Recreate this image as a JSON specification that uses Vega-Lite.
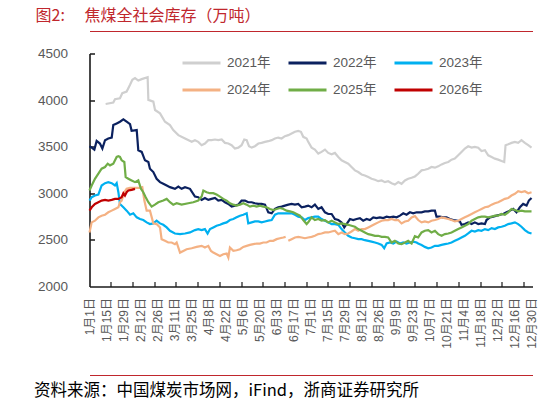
{
  "$schema": "https://vega.github.io/schema/vega-lite/v6.json",
  "autosize": {"type": "none"},
  "width": 443,
  "height": 233,
  "padding": {"left": 89.5, "top": 53.5, "right": 15.5, "bottom": 115.5},
  "background": "white",
  "config": {"view": {"stroke": null}, "font": "Liberation Sans"},
  "data": {
    "values": [
      {"year": "2021年", "day": 13.3, "value": 3958}, {"year": "2021年", "day": 19.6, "value": 3973}, {"year": "2021年", "day": 21, "value": 4009}, {"year": "2021年", "day": 25.1, "value": 4020}, {"year": "2021年", "day": 27, "value": 4074}, {"year": "2021年", "day": 30.6, "value": 4092}, {"year": "2021年", "day": 33.4, "value": 4164}, {"year": "2021年", "day": 35.3, "value": 4218}, {"year": "2021年", "day": 37.5, "value": 4236}, {"year": "2021年", "day": 40.2, "value": 4210}, {"year": "2021年", "day": 43, "value": 4225}, {"year": "2021年", "day": 47.9, "value": 4246}, {"year": "2021年", "day": 48.5, "value": 4002}, {"year": "2021年", "day": 52.6, "value": 3984}, {"year": "2021年", "day": 54, "value": 3894}, {"year": "2021年", "day": 58.1, "value": 3858}, {"year": "2021年", "day": 62.2, "value": 3768}, {"year": "2021年", "day": 66.3, "value": 3732}, {"year": "2021年", "day": 69, "value": 3678}, {"year": "2021年", "day": 73.2, "value": 3624}, {"year": "2021年", "day": 78.7, "value": 3588}, {"year": "2021年", "day": 84.2, "value": 3552}, {"year": "2021年", "day": 86.9, "value": 3570}, {"year": "2021年", "day": 89.6, "value": 3552}, {"year": "2021年", "day": 92.4, "value": 3516}, {"year": "2021年", "day": 95.1, "value": 3534}, {"year": "2021年", "day": 97.9, "value": 3570}, {"year": "2021年", "day": 100.6, "value": 3570}, {"year": "2021年", "day": 103.4, "value": 3577}, {"year": "2021年", "day": 106.1, "value": 3570}, {"year": "2021年", "day": 108.9, "value": 3577}, {"year": "2021年", "day": 111.6, "value": 3541}, {"year": "2021年", "day": 114.4, "value": 3534}, {"year": "2021年", "day": 117.1, "value": 3516}, {"year": "2021年", "day": 119.8, "value": 3480}, {"year": "2021年", "day": 122.6, "value": 3490}, {"year": "2021年", "day": 125.3, "value": 3516}, {"year": "2021年", "day": 127.5, "value": 3577}, {"year": "2021年", "day": 129.5, "value": 3570}, {"year": "2021年", "day": 131.4, "value": 3505}, {"year": "2021年", "day": 133.6, "value": 3490}, {"year": "2021年", "day": 136.3, "value": 3505}, {"year": "2021年", "day": 139.1, "value": 3534}, {"year": "2021年", "day": 141.8, "value": 3541}, {"year": "2021年", "day": 144.6, "value": 3552}, {"year": "2021年", "day": 147.3, "value": 3559}, {"year": "2021年", "day": 150.1, "value": 3570}, {"year": "2021年", "day": 152.8, "value": 3588}, {"year": "2021年", "day": 155.5, "value": 3598}, {"year": "2021年", "day": 158.3, "value": 3588}, {"year": "2021年", "day": 161, "value": 3613}, {"year": "2021年", "day": 163.8, "value": 3624}, {"year": "2021年", "day": 166.5, "value": 3642}, {"year": "2021年", "day": 169.3, "value": 3660}, {"year": "2021年", "day": 172, "value": 3670}, {"year": "2021年", "day": 174.2, "value": 3660}, {"year": "2021年", "day": 176.1, "value": 3606}, {"year": "2021年", "day": 178.9, "value": 3588}, {"year": "2021年", "day": 180.2, "value": 3552}, {"year": "2021年", "day": 183, "value": 3490}, {"year": "2021年", "day": 185.7, "value": 3469}, {"year": "2021年", "day": 188.5, "value": 3426}, {"year": "2021年", "day": 191.2, "value": 3444}, {"year": "2021年", "day": 194, "value": 3469}, {"year": "2021年", "day": 196.7, "value": 3433}, {"year": "2021年", "day": 199.5, "value": 3418}, {"year": "2021年", "day": 202.2, "value": 3433}, {"year": "2021年", "day": 205, "value": 3390}, {"year": "2021年", "day": 207.7, "value": 3354}, {"year": "2021年", "day": 210.4, "value": 3336}, {"year": "2021年", "day": 213.2, "value": 3318}, {"year": "2021年", "day": 215.9, "value": 3282}, {"year": "2021年", "day": 218.7, "value": 3246}, {"year": "2021年", "day": 221.4, "value": 3228}, {"year": "2021年", "day": 224.2, "value": 3202}, {"year": "2021年", "day": 226.9, "value": 3192}, {"year": "2021年", "day": 229.7, "value": 3174}, {"year": "2021年", "day": 232.4, "value": 3156}, {"year": "2021年", "day": 235.2, "value": 3145}, {"year": "2021年", "day": 237.9, "value": 3130}, {"year": "2021年", "day": 240.7, "value": 3138}, {"year": "2021年", "day": 243.4, "value": 3120}, {"year": "2021年", "day": 246.1, "value": 3130}, {"year": "2021年", "day": 248.9, "value": 3109}, {"year": "2021年", "day": 251.6, "value": 3094}, {"year": "2021年", "day": 254.4, "value": 3120}, {"year": "2021年", "day": 257.1, "value": 3102}, {"year": "2021年", "day": 259.9, "value": 3138}, {"year": "2021年", "day": 262.6, "value": 3156}, {"year": "2021年", "day": 265.4, "value": 3166}, {"year": "2021年", "day": 268.1, "value": 3181}, {"year": "2021年", "day": 270.8, "value": 3210}, {"year": "2021年", "day": 273.6, "value": 3246}, {"year": "2021年", "day": 276.3, "value": 3253}, {"year": "2021年", "day": 279.1, "value": 3264}, {"year": "2021年", "day": 281.8, "value": 3282}, {"year": "2021年", "day": 284.6, "value": 3275}, {"year": "2021年", "day": 287.3, "value": 3289}, {"year": "2021年", "day": 290.1, "value": 3310}, {"year": "2021年", "day": 292.8, "value": 3325}, {"year": "2021年", "day": 295.6, "value": 3336}, {"year": "2021年", "day": 298.3, "value": 3361}, {"year": "2021年", "day": 301, "value": 3372}, {"year": "2021年", "day": 303.8, "value": 3408}, {"year": "2021年", "day": 306.5, "value": 3444}, {"year": "2021年", "day": 309.3, "value": 3480}, {"year": "2021年", "day": 312, "value": 3505}, {"year": "2021年", "day": 314.8, "value": 3490}, {"year": "2021年", "day": 317.5, "value": 3498}, {"year": "2021年", "day": 320.3, "value": 3490}, {"year": "2021年", "day": 323, "value": 3454}, {"year": "2021年", "day": 325.8, "value": 3462}, {"year": "2021年", "day": 328.5, "value": 3408}, {"year": "2021年", "day": 331.3, "value": 3390}, {"year": "2021年", "day": 334, "value": 3372}, {"year": "2021年", "day": 336.7, "value": 3361}, {"year": "2021年", "day": 339.5, "value": 3347}, {"year": "2021年", "day": 341.7, "value": 3336}, {"year": "2021年", "day": 342.8, "value": 3516}, {"year": "2021年", "day": 345, "value": 3526}, {"year": "2021年", "day": 347.7, "value": 3541}, {"year": "2021年", "day": 350.5, "value": 3552}, {"year": "2021年", "day": 353.2, "value": 3541}, {"year": "2021年", "day": 355.9, "value": 3570}, {"year": "2021年", "day": 358.7, "value": 3541}, {"year": "2021年", "day": 361.5, "value": 3516}, {"year": "2021年", "day": 364.2, "value": 3490},

      {"year": "2022年", "day": 0, "value": 3505}, {"year": "2022年", "day": 1.8, "value": 3490}, {"year": "2022年", "day": 4, "value": 3469}, {"year": "2022年", "day": 5.9, "value": 3562}, {"year": "2022年", "day": 8.6, "value": 3534}, {"year": "2022年", "day": 10.6, "value": 3480}, {"year": "2022年", "day": 12.8, "value": 3570}, {"year": "2022年", "day": 15.5, "value": 3588}, {"year": "2022年", "day": 18.3, "value": 3598}, {"year": "2022年", "day": 19.6, "value": 3732}, {"year": "2022年", "day": 22.4, "value": 3750}, {"year": "2022年", "day": 25.1, "value": 3768}, {"year": "2022年", "day": 27.9, "value": 3793}, {"year": "2022年", "day": 30.6, "value": 3768}, {"year": "2022年", "day": 33.4, "value": 3742}, {"year": "2022年", "day": 34.7, "value": 3670}, {"year": "2022年", "day": 38.9, "value": 3678}, {"year": "2022年", "day": 40.2, "value": 3462}, {"year": "2022年", "day": 43, "value": 3444}, {"year": "2022年", "day": 45.7, "value": 3354}, {"year": "2022年", "day": 48.5, "value": 3336}, {"year": "2022年", "day": 49.8, "value": 3264}, {"year": "2022年", "day": 52.6, "value": 3228}, {"year": "2022年", "day": 55.3, "value": 3156}, {"year": "2022年", "day": 58.1, "value": 3120}, {"year": "2022年", "day": 60.8, "value": 3102}, {"year": "2022年", "day": 63.6, "value": 3084}, {"year": "2022年", "day": 66.3, "value": 3066}, {"year": "2022年", "day": 70.4, "value": 3048}, {"year": "2022年", "day": 73.2, "value": 3073}, {"year": "2022年", "day": 75.9, "value": 3048}, {"year": "2022年", "day": 78.7, "value": 3066}, {"year": "2022年", "day": 82.8, "value": 3048}, {"year": "2022年", "day": 86.9, "value": 2965}, {"year": "2022年", "day": 89.6, "value": 2958}, {"year": "2022年", "day": 92.4, "value": 2929}, {"year": "2022年", "day": 95.1, "value": 2950}, {"year": "2022年", "day": 97.9, "value": 2929}, {"year": "2022年", "day": 100.6, "value": 2940}, {"year": "2022年", "day": 103.4, "value": 2950}, {"year": "2022年", "day": 106.1, "value": 2922}, {"year": "2022年", "day": 108.9, "value": 2929}, {"year": "2022年", "day": 111.6, "value": 2904}, {"year": "2022年", "day": 114.4, "value": 2886}, {"year": "2022年", "day": 117.1, "value": 2857}, {"year": "2022年", "day": 119.8, "value": 2868}, {"year": "2022年", "day": 122.6, "value": 2878}, {"year": "2022年", "day": 125.3, "value": 2922}, {"year": "2022年", "day": 128.1, "value": 2922}, {"year": "2022年", "day": 130.8, "value": 2904}, {"year": "2022年", "day": 133.6, "value": 2904}, {"year": "2022年", "day": 136.3, "value": 2893}, {"year": "2022年", "day": 139.1, "value": 2886}, {"year": "2022年", "day": 141.8, "value": 2886}, {"year": "2022年", "day": 144.6, "value": 2878}, {"year": "2022年", "day": 147.3, "value": 2796}, {"year": "2022年", "day": 150.1, "value": 2785}, {"year": "2022年", "day": 152.8, "value": 2832}, {"year": "2022年", "day": 155.5, "value": 2850}, {"year": "2022年", "day": 158.3, "value": 2857}, {"year": "2022年", "day": 161, "value": 2868}, {"year": "2022年", "day": 163.8, "value": 2878}, {"year": "2022年", "day": 166.5, "value": 2886}, {"year": "2022年", "day": 169.3, "value": 2878}, {"year": "2022年", "day": 172, "value": 2886}, {"year": "2022年", "day": 174.8, "value": 2850}, {"year": "2022年", "day": 177.5, "value": 2857}, {"year": "2022年", "day": 180.2, "value": 2868}, {"year": "2022年", "day": 183, "value": 2850}, {"year": "2022年", "day": 185.7, "value": 2878}, {"year": "2022年", "day": 188.5, "value": 2832}, {"year": "2022年", "day": 191.2, "value": 2850}, {"year": "2022年", "day": 194, "value": 2796}, {"year": "2022年", "day": 196.7, "value": 2778}, {"year": "2022年", "day": 199.5, "value": 2778}, {"year": "2022年", "day": 202.2, "value": 2724}, {"year": "2022年", "day": 205, "value": 2713}, {"year": "2022年", "day": 207.7, "value": 2688}, {"year": "2022年", "day": 209.9, "value": 2634}, {"year": "2022年", "day": 211.8, "value": 2670}, {"year": "2022年", "day": 214.6, "value": 2724}, {"year": "2022年", "day": 217.3, "value": 2713}, {"year": "2022年", "day": 220.1, "value": 2724}, {"year": "2022年", "day": 222.8, "value": 2734}, {"year": "2022年", "day": 225.5, "value": 2706}, {"year": "2022年", "day": 228.3, "value": 2724}, {"year": "2022年", "day": 231, "value": 2713}, {"year": "2022年", "day": 233.8, "value": 2742}, {"year": "2022年", "day": 236.5, "value": 2734}, {"year": "2022年", "day": 239.3, "value": 2742}, {"year": "2022年", "day": 242, "value": 2734}, {"year": "2022年", "day": 244.8, "value": 2749}, {"year": "2022年", "day": 247.5, "value": 2742}, {"year": "2022年", "day": 250.3, "value": 2749}, {"year": "2022年", "day": 253, "value": 2742}, {"year": "2022年", "day": 255.8, "value": 2760}, {"year": "2022年", "day": 258.5, "value": 2785}, {"year": "2022年", "day": 261.2, "value": 2770}, {"year": "2022年", "day": 264, "value": 2796}, {"year": "2022年", "day": 266.7, "value": 2785}, {"year": "2022年", "day": 269.5, "value": 2796}, {"year": "2022年", "day": 273.6, "value": 2796}, {"year": "2022年", "day": 276.3, "value": 2806}, {"year": "2022年", "day": 279.1, "value": 2806}, {"year": "2022年", "day": 281.8, "value": 2814}, {"year": "2022年", "day": 284.6, "value": 2814}, {"year": "2022年", "day": 285.9, "value": 2749}, {"year": "2022年", "day": 288.7, "value": 2749}, {"year": "2022年", "day": 291.4, "value": 2742}, {"year": "2022年", "day": 294.2, "value": 2742}, {"year": "2022年", "day": 296.9, "value": 2724}, {"year": "2022年", "day": 299.7, "value": 2713}, {"year": "2022年", "day": 302.4, "value": 2706}, {"year": "2022年", "day": 305.2, "value": 2698}, {"year": "2022年", "day": 306.5, "value": 2662}, {"year": "2022年", "day": 309.3, "value": 2670}, {"year": "2022年", "day": 312, "value": 2688}, {"year": "2022年", "day": 314.8, "value": 2670}, {"year": "2022年", "day": 317.5, "value": 2688}, {"year": "2022年", "day": 320.3, "value": 2670}, {"year": "2022年", "day": 323, "value": 2677}, {"year": "2022年", "day": 325.8, "value": 2670}, {"year": "2022年", "day": 327.1, "value": 2713}, {"year": "2022年", "day": 329.9, "value": 2742}, {"year": "2022年", "day": 332.6, "value": 2749}, {"year": "2022年", "day": 335.4, "value": 2760}, {"year": "2022年", "day": 338.1, "value": 2770}, {"year": "2022年", "day": 340.9, "value": 2778}, {"year": "2022年", "day": 343.6, "value": 2796}, {"year": "2022年", "day": 346.4, "value": 2814}, {"year": "2022年", "day": 349.1, "value": 2832}, {"year": "2022年", "day": 351.8, "value": 2796}, {"year": "2022年", "day": 354.6, "value": 2850}, {"year": "2022年", "day": 357.3, "value": 2886}, {"year": "2022年", "day": 360.1, "value": 2868}, {"year": "2022年", "day": 362, "value": 2922}, {"year": "2022年", "day": 364.2, "value": 2950},

      {"year": "2023年", "day": 0, "value": 2922}, {"year": "2023年", "day": 1.8, "value": 2958}, {"year": "2023年", "day": 4.5, "value": 2976}, {"year": "2023年", "day": 7.3, "value": 2986}, {"year": "2023年", "day": 10, "value": 3084}, {"year": "2023年", "day": 12.8, "value": 3109}, {"year": "2023年", "day": 15.5, "value": 3120}, {"year": "2023年", "day": 18.3, "value": 3109}, {"year": "2023年", "day": 21, "value": 3084}, {"year": "2023年", "day": 22.4, "value": 3109}, {"year": "2023年", "day": 23.8, "value": 3012}, {"year": "2023年", "day": 25.1, "value": 2886}, {"year": "2023年", "day": 27.9, "value": 2850}, {"year": "2023年", "day": 30.6, "value": 2814}, {"year": "2023年", "day": 33.4, "value": 2770}, {"year": "2023年", "day": 36.1, "value": 2785}, {"year": "2023年", "day": 38.9, "value": 2742}, {"year": "2023年", "day": 41.6, "value": 2724}, {"year": "2023年", "day": 44.3, "value": 2713}, {"year": "2023年", "day": 47.1, "value": 2688}, {"year": "2023年", "day": 49.8, "value": 2670}, {"year": "2023年", "day": 52.6, "value": 2677}, {"year": "2023年", "day": 55.3, "value": 2706}, {"year": "2023年", "day": 58.1, "value": 2677}, {"year": "2023年", "day": 60.8, "value": 2662}, {"year": "2023年", "day": 63.6, "value": 2634}, {"year": "2023年", "day": 66.3, "value": 2598}, {"year": "2023年", "day": 70.4, "value": 2569}, {"year": "2023年", "day": 74.6, "value": 2562}, {"year": "2023年", "day": 78.7, "value": 2569}, {"year": "2023年", "day": 82.8, "value": 2580}, {"year": "2023年", "day": 86.9, "value": 2605}, {"year": "2023年", "day": 89.6, "value": 2616}, {"year": "2023年", "day": 92.4, "value": 2605}, {"year": "2023年", "day": 95.1, "value": 2616}, {"year": "2023年", "day": 97.3, "value": 2569}, {"year": "2023年", "day": 99.3, "value": 2616}, {"year": "2023年", "day": 102, "value": 2634}, {"year": "2023年", "day": 104.7, "value": 2652}, {"year": "2023年", "day": 107.5, "value": 2662}, {"year": "2023年", "day": 110.2, "value": 2677}, {"year": "2023年", "day": 113, "value": 2688}, {"year": "2023年", "day": 115.7, "value": 2713}, {"year": "2023年", "day": 118.5, "value": 2724}, {"year": "2023年", "day": 121.2, "value": 2742}, {"year": "2023年", "day": 124, "value": 2760}, {"year": "2023年", "day": 126.7, "value": 2770}, {"year": "2023年", "day": 129.5, "value": 2785}, {"year": "2023年", "day": 130.8, "value": 2677}, {"year": "2023年", "day": 133.6, "value": 2688}, {"year": "2023年", "day": 136.3, "value": 2698}, {"year": "2023年", "day": 139.1, "value": 2698}, {"year": "2023年", "day": 141.8, "value": 2688}, {"year": "2023年", "day": 144.6, "value": 2698}, {"year": "2023年", "day": 147.3, "value": 2706}, {"year": "2023年", "day": 150.1, "value": 2713}, {"year": "2023年", "day": 152.8, "value": 2770}, {"year": "2023年", "day": 155.5, "value": 2785}, {"year": "2023年", "day": 158.3, "value": 2785}, {"year": "2023年", "day": 161, "value": 2785}, {"year": "2023年", "day": 163.8, "value": 2785}, {"year": "2023年", "day": 166.5, "value": 2785}, {"year": "2023年", "day": 169.3, "value": 2770}, {"year": "2023年", "day": 172, "value": 2749}, {"year": "2023年", "day": 174.8, "value": 2742}, {"year": "2023年", "day": 177.5, "value": 2713}, {"year": "2023年", "day": 180.2, "value": 2734}, {"year": "2023年", "day": 183, "value": 2742}, {"year": "2023年", "day": 185.7, "value": 2749}, {"year": "2023年", "day": 188.5, "value": 2749}, {"year": "2023年", "day": 191.2, "value": 2724}, {"year": "2023年", "day": 194, "value": 2706}, {"year": "2023年", "day": 196.7, "value": 2688}, {"year": "2023年", "day": 199.5, "value": 2670}, {"year": "2023年", "day": 202.2, "value": 2670}, {"year": "2023年", "day": 205, "value": 2662}, {"year": "2023年", "day": 207.7, "value": 2616}, {"year": "2023年", "day": 210.4, "value": 2580}, {"year": "2023年", "day": 213.2, "value": 2544}, {"year": "2023年", "day": 215.9, "value": 2526}, {"year": "2023年", "day": 218.7, "value": 2518}, {"year": "2023年", "day": 221.4, "value": 2508}, {"year": "2023年", "day": 224.2, "value": 2508}, {"year": "2023年", "day": 226.9, "value": 2497}, {"year": "2023年", "day": 229.7, "value": 2490}, {"year": "2023年", "day": 232.4, "value": 2482}, {"year": "2023年", "day": 235.2, "value": 2472}, {"year": "2023年", "day": 237.9, "value": 2461}, {"year": "2023年", "day": 240.7, "value": 2446}, {"year": "2023年", "day": 242.8, "value": 2410}, {"year": "2023年", "day": 244.8, "value": 2461}, {"year": "2023年", "day": 247.5, "value": 2472}, {"year": "2023年", "day": 250.3, "value": 2461}, {"year": "2023年", "day": 253, "value": 2482}, {"year": "2023年", "day": 255.8, "value": 2461}, {"year": "2023年", "day": 258.5, "value": 2472}, {"year": "2023年", "day": 261.2, "value": 2461}, {"year": "2023年", "day": 264, "value": 2472}, {"year": "2023年", "day": 266.7, "value": 2482}, {"year": "2023年", "day": 269.5, "value": 2472}, {"year": "2023年", "day": 270.8, "value": 2461}, {"year": "2023年", "day": 273.6, "value": 2446}, {"year": "2023年", "day": 276.3, "value": 2425}, {"year": "2023年", "day": 279.1, "value": 2410}, {"year": "2023年", "day": 281.8, "value": 2418}, {"year": "2023年", "day": 284.6, "value": 2436}, {"year": "2023年", "day": 287.3, "value": 2436}, {"year": "2023年", "day": 290.1, "value": 2446}, {"year": "2023年", "day": 292.8, "value": 2454}, {"year": "2023年", "day": 295.6, "value": 2461}, {"year": "2023年", "day": 298.3, "value": 2472}, {"year": "2023年", "day": 301, "value": 2490}, {"year": "2023年", "day": 303.8, "value": 2508}, {"year": "2023年", "day": 306.5, "value": 2526}, {"year": "2023年", "day": 309.3, "value": 2544}, {"year": "2023年", "day": 312, "value": 2569}, {"year": "2023年", "day": 314.8, "value": 2598}, {"year": "2023年", "day": 317.5, "value": 2590}, {"year": "2023年", "day": 320.3, "value": 2605}, {"year": "2023年", "day": 323, "value": 2598}, {"year": "2023年", "day": 325.8, "value": 2616}, {"year": "2023年", "day": 328.5, "value": 2605}, {"year": "2023年", "day": 331.3, "value": 2626}, {"year": "2023年", "day": 334, "value": 2616}, {"year": "2023年", "day": 336.7, "value": 2634}, {"year": "2023年", "day": 339.5, "value": 2641}, {"year": "2023年", "day": 342.2, "value": 2652}, {"year": "2023年", "day": 345, "value": 2670}, {"year": "2023年", "day": 347.7, "value": 2677}, {"year": "2023年", "day": 350.5, "value": 2688}, {"year": "2023年", "day": 353.2, "value": 2670}, {"year": "2023年", "day": 355.9, "value": 2641}, {"year": "2023年", "day": 358.7, "value": 2605}, {"year": "2023年", "day": 361.5, "value": 2580}, {"year": "2023年", "day": 364.2, "value": 2569},

      {"year": "2024年", "day": 0, "value": 2580}, {"year": "2024年", "day": 1.8, "value": 2688}, {"year": "2024年", "day": 4.5, "value": 2706}, {"year": "2024年", "day": 7.3, "value": 2742}, {"year": "2024年", "day": 10, "value": 2760}, {"year": "2024年", "day": 12.8, "value": 2770}, {"year": "2024年", "day": 15.5, "value": 2796}, {"year": "2024年", "day": 18.3, "value": 2814}, {"year": "2024年", "day": 21, "value": 2832}, {"year": "2024年", "day": 23.8, "value": 2850}, {"year": "2024年", "day": 25.1, "value": 2904}, {"year": "2024年", "day": 26.5, "value": 2922}, {"year": "2024年", "day": 28.7, "value": 3012}, {"year": "2024年", "day": 30.6, "value": 3048}, {"year": "2024年", "day": 33.4, "value": 3058}, {"year": "2024年", "day": 37.5, "value": 3058}, {"year": "2024年", "day": 41.6, "value": 3058}, {"year": "2024年", "day": 43.5, "value": 3066}, {"year": "2024年", "day": 45.2, "value": 2922}, {"year": "2024年", "day": 47.1, "value": 2814}, {"year": "2024年", "day": 49.8, "value": 2814}, {"year": "2024年", "day": 52.6, "value": 2677}, {"year": "2024年", "day": 55.3, "value": 2670}, {"year": "2024年", "day": 58.1, "value": 2634}, {"year": "2024年", "day": 59.4, "value": 2508}, {"year": "2024年", "day": 62.2, "value": 2490}, {"year": "2024年", "day": 64.9, "value": 2472}, {"year": "2024年", "day": 67.7, "value": 2472}, {"year": "2024年", "day": 70.4, "value": 2454}, {"year": "2024年", "day": 71.8, "value": 2472}, {"year": "2024年", "day": 74.6, "value": 2364}, {"year": "2024年", "day": 77.3, "value": 2382}, {"year": "2024年", "day": 80, "value": 2400}, {"year": "2024年", "day": 84.2, "value": 2410}, {"year": "2024年", "day": 88.3, "value": 2425}, {"year": "2024年", "day": 92.4, "value": 2436}, {"year": "2024年", "day": 95.1, "value": 2418}, {"year": "2024年", "day": 97.9, "value": 2436}, {"year": "2024年", "day": 100.1, "value": 2382}, {"year": "2024年", "day": 102, "value": 2364}, {"year": "2024年", "day": 104.7, "value": 2346}, {"year": "2024年", "day": 107.5, "value": 2328}, {"year": "2024年", "day": 110.2, "value": 2346}, {"year": "2024年", "day": 113, "value": 2353}, {"year": "2024年", "day": 114.4, "value": 2310}, {"year": "2024年", "day": 115.7, "value": 2418}, {"year": "2024年", "day": 118.5, "value": 2382}, {"year": "2024年", "day": 121.2, "value": 2389}, {"year": "2024年", "day": 124, "value": 2400}, {"year": "2024年", "day": 126.7, "value": 2425}, {"year": "2024年", "day": 129.5, "value": 2436}, {"year": "2024年", "day": 132.2, "value": 2446}, {"year": "2024年", "day": 135, "value": 2454}, {"year": "2024年", "day": 137.7, "value": 2461}, {"year": "2024年", "day": 140.4, "value": 2461}, {"year": "2024年", "day": 143.2, "value": 2472}, {"year": "2024年", "day": 145.9, "value": 2472}, {"year": "2024年", "day": 148.7, "value": 2490}, {"year": "2024年", "day": 151.4, "value": 2490}, {"year": "2024年", "day": 154.2, "value": 2508}, {"year": "2024年", "day": 156.9, "value": 2518}, {"year": "2024年", "day": 159.7, "value": 2526}, {"year": "2024年", "day": 161.6, "value": 2533}, {"year": "2024年", "day": 162.7, "value": null}, {"year": "2024年", "day": 163.8, "value": 2490}, {"year": "2024年", "day": 166.5, "value": 2508}, {"year": "2024年", "day": 169.3, "value": 2526}, {"year": "2024年", "day": 172, "value": 2533}, {"year": "2024年", "day": 174.8, "value": 2526}, {"year": "2024年", "day": 177.5, "value": 2518}, {"year": "2024年", "day": 180.2, "value": 2526}, {"year": "2024年", "day": 183, "value": 2533}, {"year": "2024年", "day": 185.7, "value": 2544}, {"year": "2024年", "day": 188.5, "value": 2562}, {"year": "2024年", "day": 191.2, "value": 2569}, {"year": "2024年", "day": 194, "value": 2580}, {"year": "2024年", "day": 196.7, "value": 2580}, {"year": "2024年", "day": 199.5, "value": 2590}, {"year": "2024年", "day": 202.2, "value": 2598}, {"year": "2024年", "day": 205, "value": 2562}, {"year": "2024年", "day": 207.7, "value": 2580}, {"year": "2024年", "day": 210.4, "value": 2562}, {"year": "2024年", "day": 213.2, "value": 2569}, {"year": "2024年", "day": 215.9, "value": 2590}, {"year": "2024年", "day": 218.7, "value": 2616}, {"year": "2024年", "day": 221.4, "value": 2598}, {"year": "2024年", "day": 224.2, "value": 2616}, {"year": "2024年", "day": 226.9, "value": 2616}, {"year": "2024年", "day": 229.7, "value": 2634}, {"year": "2024年", "day": 232.4, "value": 2652}, {"year": "2024年", "day": 235.2, "value": 2670}, {"year": "2024年", "day": 237.9, "value": 2688}, {"year": "2024年", "day": 240.7, "value": 2706}, {"year": "2024年", "day": 243.4, "value": 2713}, {"year": "2024年", "day": 246.1, "value": 2713}, {"year": "2024年", "day": 248.9, "value": 2724}, {"year": "2024年", "day": 251.6, "value": 2713}, {"year": "2024年", "day": 254.4, "value": 2713}, {"year": "2024年", "day": 257.1, "value": 2677}, {"year": "2024年", "day": 259.9, "value": 2698}, {"year": "2024年", "day": 262.6, "value": 2706}, {"year": "2024年", "day": 265.4, "value": 2742}, {"year": "2024年", "day": 268.1, "value": 2755}, {"year": "2024年", "day": 270.8, "value": 2713}, {"year": "2024年", "day": 273.6, "value": 2688}, {"year": "2024年", "day": 276.3, "value": 2698}, {"year": "2024年", "day": 279.1, "value": 2688}, {"year": "2024年", "day": 281.8, "value": 2706}, {"year": "2024年", "day": 284.6, "value": 2713}, {"year": "2024年", "day": 287.3, "value": 2724}, {"year": "2024年", "day": 290.1, "value": 2742}, {"year": "2024年", "day": 292.8, "value": 2734}, {"year": "2024年", "day": 295.6, "value": 2724}, {"year": "2024年", "day": 298.3, "value": 2713}, {"year": "2024年", "day": 301, "value": 2698}, {"year": "2024年", "day": 303.8, "value": 2706}, {"year": "2024年", "day": 306.5, "value": 2724}, {"year": "2024年", "day": 309.3, "value": 2742}, {"year": "2024年", "day": 312, "value": 2760}, {"year": "2024年", "day": 314.8, "value": 2778}, {"year": "2024年", "day": 317.5, "value": 2796}, {"year": "2024年", "day": 320.3, "value": 2814}, {"year": "2024年", "day": 323, "value": 2832}, {"year": "2024年", "day": 325.8, "value": 2850}, {"year": "2024年", "day": 328.5, "value": 2857}, {"year": "2024年", "day": 331.3, "value": 2878}, {"year": "2024年", "day": 334, "value": 2893}, {"year": "2024年", "day": 336.7, "value": 2904}, {"year": "2024年", "day": 339.5, "value": 2922}, {"year": "2024年", "day": 342.2, "value": 2940}, {"year": "2024年", "day": 345, "value": 2950}, {"year": "2024年", "day": 347.7, "value": 2976}, {"year": "2024年", "day": 350.5, "value": 2994}, {"year": "2024年", "day": 353.2, "value": 3022}, {"year": "2024年", "day": 355.9, "value": 3012}, {"year": "2024年", "day": 358.7, "value": 3022}, {"year": "2024年", "day": 361.5, "value": 3001}, {"year": "2024年", "day": 364.2, "value": 3012},

      {"year": "2025年", "day": 0, "value": 3030}, {"year": "2025年", "day": 1.8, "value": 3084}, {"year": "2025年", "day": 4.5, "value": 3156}, {"year": "2025年", "day": 7.3, "value": 3210}, {"year": "2025年", "day": 10, "value": 3264}, {"year": "2025年", "day": 12.8, "value": 3282}, {"year": "2025年", "day": 15, "value": 3318}, {"year": "2025年", "day": 16.9, "value": 3300}, {"year": "2025年", "day": 19.6, "value": 3318}, {"year": "2025年", "day": 22.4, "value": 3390}, {"year": "2025年", "day": 23.8, "value": 3397}, {"year": "2025年", "day": 25.1, "value": 3390}, {"year": "2025年", "day": 26.5, "value": 3354}, {"year": "2025年", "day": 28.7, "value": 3336}, {"year": "2025年", "day": 29.8, "value": 3174}, {"year": "2025年", "day": 32, "value": 3156}, {"year": "2025年", "day": 34.7, "value": 3138}, {"year": "2025年", "day": 37.5, "value": 3120}, {"year": "2025年", "day": 40.2, "value": 3138}, {"year": "2025年", "day": 42.4, "value": 3048}, {"year": "2025年", "day": 44.3, "value": 3012}, {"year": "2025年", "day": 46.3, "value": 2958}, {"year": "2025年", "day": 48.5, "value": 2904}, {"year": "2025年", "day": 51.2, "value": 2857}, {"year": "2025年", "day": 53.9, "value": 2878}, {"year": "2025年", "day": 56.7, "value": 2904}, {"year": "2025年", "day": 60.8, "value": 2922}, {"year": "2025年", "day": 63.6, "value": 2940}, {"year": "2025年", "day": 66.3, "value": 2904}, {"year": "2025年", "day": 69, "value": 2878}, {"year": "2025年", "day": 71.8, "value": 2893}, {"year": "2025年", "day": 75.9, "value": 2878}, {"year": "2025年", "day": 81.4, "value": 2893}, {"year": "2025年", "day": 85.5, "value": 2904}, {"year": "2025年", "day": 89.6, "value": 2922}, {"year": "2025年", "day": 92.4, "value": 2965}, {"year": "2025年", "day": 93.8, "value": 3030}, {"year": "2025年", "day": 96.5, "value": 3012}, {"year": "2025年", "day": 99.3, "value": 3001}, {"year": "2025年", "day": 102, "value": 3001}, {"year": "2025年", "day": 104.7, "value": 2986}, {"year": "2025年", "day": 107.5, "value": 2965}, {"year": "2025年", "day": 110.2, "value": 2940}, {"year": "2025年", "day": 113, "value": 2922}, {"year": "2025年", "day": 115.7, "value": 2893}, {"year": "2025年", "day": 118.5, "value": 2878}, {"year": "2025年", "day": 121.2, "value": 2868}, {"year": "2025年", "day": 124, "value": 2878}, {"year": "2025年", "day": 126.7, "value": 2893}, {"year": "2025年", "day": 129.5, "value": 2878}, {"year": "2025年", "day": 132.2, "value": 2857}, {"year": "2025年", "day": 135, "value": 2868}, {"year": "2025年", "day": 137.7, "value": 2857}, {"year": "2025年", "day": 140.4, "value": 2868}, {"year": "2025年", "day": 143.2, "value": 2857}, {"year": "2025年", "day": 145.9, "value": 2850}, {"year": "2025年", "day": 148.7, "value": 2832}, {"year": "2025年", "day": 151.4, "value": 2821}, {"year": "2025年", "day": 154.2, "value": 2832}, {"year": "2025年", "day": 156.9, "value": 2842}, {"year": "2025年", "day": 159.7, "value": 2832}, {"year": "2025年", "day": 162.4, "value": 2814}, {"year": "2025年", "day": 165.2, "value": 2806}, {"year": "2025年", "day": 167.9, "value": 2796}, {"year": "2025年", "day": 170.6, "value": 2778}, {"year": "2025年", "day": 173.4, "value": 2760}, {"year": "2025年", "day": 176.1, "value": 2713}, {"year": "2025年", "day": 178.9, "value": 2670}, {"year": "2025年", "day": 180.2, "value": 2688}, {"year": "2025年", "day": 183, "value": 2742}, {"year": "2025年", "day": 185.7, "value": 2713}, {"year": "2025年", "day": 188.5, "value": 2724}, {"year": "2025年", "day": 191.2, "value": 2706}, {"year": "2025年", "day": 194, "value": 2713}, {"year": "2025年", "day": 196.7, "value": 2688}, {"year": "2025年", "day": 199.5, "value": 2706}, {"year": "2025年", "day": 202.2, "value": 2688}, {"year": "2025年", "day": 205, "value": 2670}, {"year": "2025年", "day": 207.7, "value": 2677}, {"year": "2025年", "day": 210.4, "value": 2670}, {"year": "2025年", "day": 213.2, "value": 2662}, {"year": "2025年", "day": 215.9, "value": 2652}, {"year": "2025年", "day": 218.7, "value": 2641}, {"year": "2025年", "day": 221.4, "value": 2616}, {"year": "2025年", "day": 224.2, "value": 2598}, {"year": "2025年", "day": 226.9, "value": 2580}, {"year": "2025年", "day": 229.7, "value": 2562}, {"year": "2025年", "day": 232.4, "value": 2554}, {"year": "2025年", "day": 235.2, "value": 2544}, {"year": "2025年", "day": 237.9, "value": 2544}, {"year": "2025年", "day": 240.7, "value": 2533}, {"year": "2025年", "day": 243.4, "value": 2533}, {"year": "2025年", "day": 246.1, "value": 2526}, {"year": "2025年", "day": 248.9, "value": 2472}, {"year": "2025年", "day": 251.6, "value": 2490}, {"year": "2025年", "day": 254.4, "value": 2461}, {"year": "2025年", "day": 257.1, "value": 2454}, {"year": "2025年", "day": 259.9, "value": 2472}, {"year": "2025年", "day": 262.6, "value": 2490}, {"year": "2025年", "day": 265.4, "value": 2461}, {"year": "2025年", "day": 268.1, "value": 2540}, {"year": "2025年", "day": 270.8, "value": 2526}, {"year": "2025年", "day": 273.6, "value": 2580}, {"year": "2025年", "day": 276.3, "value": 2598}, {"year": "2025年", "day": 279.1, "value": 2605}, {"year": "2025年", "day": 281.8, "value": 2580}, {"year": "2025年", "day": 284.6, "value": 2598}, {"year": "2025年", "day": 287.3, "value": 2562}, {"year": "2025年", "day": 290.1, "value": 2544}, {"year": "2025年", "day": 292.8, "value": 2562}, {"year": "2025年", "day": 295.6, "value": 2569}, {"year": "2025年", "day": 298.3, "value": 2580}, {"year": "2025年", "day": 301, "value": 2598}, {"year": "2025年", "day": 303.8, "value": 2616}, {"year": "2025年", "day": 306.5, "value": 2634}, {"year": "2025年", "day": 309.3, "value": 2652}, {"year": "2025年", "day": 312, "value": 2670}, {"year": "2025年", "day": 314.8, "value": 2706}, {"year": "2025年", "day": 317.5, "value": 2724}, {"year": "2025年", "day": 320.3, "value": 2742}, {"year": "2025年", "day": 323, "value": 2749}, {"year": "2025年", "day": 325.8, "value": 2749}, {"year": "2025年", "day": 328.5, "value": 2742}, {"year": "2025年", "day": 331.3, "value": 2749}, {"year": "2025年", "day": 334, "value": 2760}, {"year": "2025年", "day": 336.7, "value": 2760}, {"year": "2025年", "day": 339.5, "value": 2778}, {"year": "2025年", "day": 342.2, "value": 2770}, {"year": "2025年", "day": 345, "value": 2796}, {"year": "2025年", "day": 347.7, "value": 2832}, {"year": "2025年", "day": 350.5, "value": 2821}, {"year": "2025年", "day": 353.2, "value": 2806}, {"year": "2025年", "day": 355.9, "value": 2814}, {"year": "2025年", "day": 358.7, "value": 2806}, {"year": "2025年", "day": 361.5, "value": 2806}, {"year": "2025年", "day": 364.2, "value": 2806},

      {"year": "2026年", "day": 0, "value": 2814}, {"year": "2026年", "day": 1.8, "value": 2850}, {"year": "2026年", "day": 4.5, "value": 2886}, {"year": "2026年", "day": 7.3, "value": 2904}, {"year": "2026年", "day": 10, "value": 2922}, {"year": "2026年", "day": 12.8, "value": 2929}, {"year": "2026年", "day": 15.5, "value": 2922}, {"year": "2026年", "day": 18.3, "value": 2929}, {"year": "2026年", "day": 21, "value": 2940}, {"year": "2026年", "day": 23.8, "value": 2940}, {"year": "2026年", "day": 26.5, "value": 2958}, {"year": "2026年", "day": 27.9, "value": 3001}, {"year": "2026年", "day": 29.2, "value": 2976}, {"year": "2026年", "day": 30.6, "value": 3012}, {"year": "2026年", "day": 32, "value": 3030}, {"year": "2026年", "day": 34.7, "value": 3037}, {"year": "2026年", "day": 37.5, "value": 3048}
    ]
  },
  "layer": [
    {
      "mark": {"type": "line", "strokeWidth": 2.2},
      "encoding": {
        "x": {
          "field": "day",
          "type": "quantitative",
          "scale": {"domain": [0, 365], "nice": false, "zero": false},
          "axis": {
            "orient": "bottom",
            "title": null,
            "values": [0, 14, 28, 42, 56, 70, 84, 98, 112, 126, 140, 154, 168, 182, 196, 210, 224, 238, 252, 266, 280, 294, 308, 322, 336, 350, 364],
            "labelExpr": "timeFormat(datetime(2024, 0, 1 + datum.value), '%-m月%-d日')",
            "labelAngle": 270,
            "labelOverlap": false,
            "labelFlush": false,
            "labelPadding": 11,
            "labelFont": "Liberation Sans, Noto Sans CJK SC",
            "labelFontSize": 12,
            "labelColor": "#595959",
            "ticks": false,
            "grid": false,
            "domainColor": "#1a1a1a",
            "domainWidth": 1.6
          }
        },
        "y": {
          "field": "value",
          "type": "quantitative",
          "scale": {"domain": [2000, 4500], "nice": false, "zero": false},
          "axis": {
            "orient": "left",
            "title": null,
            "values": [2000, 2500, 3000, 3500, 4000, 4500],
            "format": "d",
            "grid": false,
            "ticks": false,
            "domainColor": "#1a1a1a",
            "domainWidth": 1.6,
            "labelPadding": 22,
            "labelFont": "Liberation Sans",
            "labelFontSize": 13.5,
            "labelColor": "#595959"
          }
        },
        "color": {
          "field": "year",
          "type": "nominal",
          "scale": {
            "domain": ["2021年", "2022年", "2023年", "2024年", "2025年", "2026年"],
            "range": ["#CFCFCF", "#0B215F", "#00B0F0", "#F4B183", "#70AD47", "#C00000"]
          },
          "legend": {
            "title": null,
            "orient": "none",
            "legendX": 91.5,
            "legendY": -11,
            "columns": 3,
            "direction": "horizontal",
            "symbolType": "stroke",
            "symbolSize": 1444,
            "symbolStrokeWidth": 3,
            "labelFont": "Liberation Sans, Noto Sans CJK SC",
            "labelFontSize": 13.5,
            "labelColor": "#595959",
            "labelOffset": 5,
            "columnPadding": 11,
            "rowPadding": 0
          }
        }
      }
    },
    {
      "transform": [{"filter": "false"}],
      "mark": {"type": "line"},
      "encoding": {
        "x": {
          "field": "day",
          "type": "quantitative",
          "scale": {"domain": [0, 365], "nice": false, "zero": false},
          "axis": {
            "orient": "bottom",
            "offset": -5,
            "title": null,
            "values": [17.5, 35.4, 53.3, 71.2, 89.1, 107, 124.9, 142.8, 160.7, 178.6, 196.5, 214.4, 232.3, 250.2, 268.1, 286, 303.9, 321.8, 339.7, 357.6],
            "labels": false,
            "domain": false,
            "grid": false,
            "ticks": true,
            "tickSize": 5,
            "tickWidth": 1.2,
            "tickColor": "#1a1a1a"
          }
        },
        "y": {
          "field": "value",
          "type": "quantitative",
          "scale": {"domain": [2000, 4500], "nice": false, "zero": false},
          "axis": {
            "orient": "left",
            "offset": -5,
            "title": null,
            "values": [2500, 3000, 3500, 4000, 4500],
            "labels": false,
            "domain": false,
            "grid": false,
            "ticks": true,
            "tickSize": 5,
            "tickWidth": 1.5,
            "tickColor": "#1a1a1a"
          }
        }
      }
    },
    {
      "transform": [{"filter": "false"}],
      "mark": {"type": "line"},
      "encoding": {
        "x": {
          "field": "day",
          "type": "quantitative",
          "scale": {"domain": [0, 365], "nice": false, "zero": false},
          "axis": {
            "orient": "top",
            "offset": 22.5,
            "domain": true,
            "domainColor": "#C0272D",
            "domainWidth": 1.2,
            "labels": false,
            "ticks": false,
            "grid": false,
            "title": "图2:　 焦煤全社会库存（万吨）",
            "titleX": -54.5,
            "titleY": -16,
            "titleAlign": "left",
            "titleBaseline": "middle",
            "titleFont": "Noto Sans CJK SC",
            "titleFontSize": 16,
            "titleFontWeight": "normal",
            "titleColor": "#C0272D"
          }
        },
        "y": {"field": "value", "type": "quantitative", "axis": null}
      }
    },
    {
      "transform": [{"filter": "false"}],
      "mark": {"type": "line"},
      "encoding": {
        "x": {
          "field": "day",
          "type": "quantitative",
          "scale": {"domain": [0, 365], "nice": false, "zero": false},
          "axis": {
            "orient": "bottom",
            "offset": 88.5,
            "domain": true,
            "domainColor": "#C0272D",
            "domainWidth": 1.2,
            "labels": false,
            "ticks": false,
            "grid": false,
            "title": "资料来源：中国煤炭市场网，iFind，浙商证券研究所",
            "titleX": -56,
            "titleY": 15,
            "titleAlign": "left",
            "titleBaseline": "middle",
            "titleFont": "Noto Sans CJK SC",
            "titleFontSize": 16.5,
            "titleFontWeight": "normal",
            "titleColor": "#000000"
          }
        },
        "y": {"field": "value", "type": "quantitative", "axis": null}
      }
    }
  ],
  "resolve": {
    "axis": {"x": "independent", "y": "independent"}
  }
}
